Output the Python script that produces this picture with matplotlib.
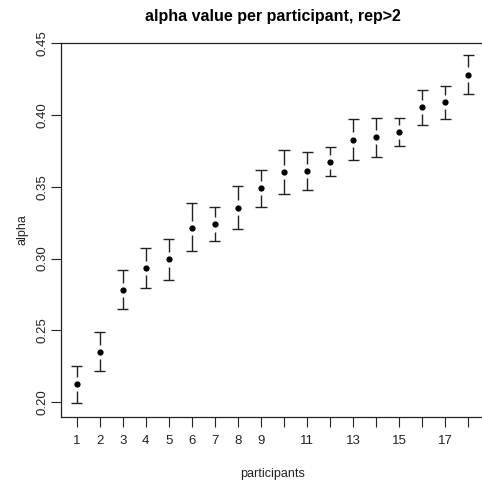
import matplotlib
matplotlib.use('Agg')
import matplotlib.pyplot as plt
import numpy as np

plt.rcParams['font.family'] = ['Liberation Sans', 'DejaVu Sans']

participants = np.arange(1, 19)
alpha = [0.2125, 0.2350, 0.2782, 0.2933, 0.2994, 0.3212, 0.3238, 0.3355,
         0.3492, 0.3602, 0.3611, 0.3671, 0.3829, 0.3845, 0.3882, 0.4057,
         0.4091, 0.4282]
upper = [0.2253, 0.2490, 0.2917, 0.3074, 0.3135, 0.3388, 0.3360, 0.3506,
         0.3618, 0.3755, 0.3745, 0.3776, 0.3971, 0.3980, 0.3980, 0.4175,
         0.4205, 0.4416]
lower = [0.1993, 0.2218, 0.2648, 0.2796, 0.2852, 0.3052, 0.3119, 0.3205,
         0.3356, 0.3450, 0.3476, 0.3576, 0.3687, 0.3708, 0.3783, 0.3934,
         0.3971, 0.4147]
x_ticks = list(range(1, 19))
x_labels = ['1', '2', '3', '4', '5', '6', '7', '8', '9', '', '11', '',
            '13', '', '15', '', '17', '']
y_ticks = [0.20, 0.25, 0.30, 0.35, 0.40, 0.45]

fig = plt.figure(figsize=(4.82, 4.84), dpi=100)
ax = fig.add_axes([61 / 482, 1 - 417 / 484, 423 / 482, 374 / 484])

alpha = np.array(alpha)
upper = np.array(upper)
lower = np.array(lower)
gap = 0.005
cap = 0.24
ink = '#222222'

# bars with a gap around the point, plotCI style
ax.vlines(participants, alpha + gap, upper, color=ink, lw=1)
ax.vlines(participants, lower, alpha - gap, color=ink, lw=1)
ax.hlines(upper, participants - cap, participants + cap, color=ink, lw=1)
ax.hlines(lower, participants - cap, participants + cap, color=ink, lw=1)
ax.plot(participants, alpha, 'o', color='black', ms=4.5, mew=0)

ax.set_xlim(0.32, 18.68)
ax.set_ylim(0.1896, 0.4502)
ax.set_xticks(x_ticks)
ax.set_xticklabels(x_labels)
ax.set_yticks(y_ticks)
ax.set_yticklabels(['%.2f' % v for v in y_ticks], rotation=90, va='center')
ax.tick_params(length=7, width=0.8, color=ink, labelsize=9.5, labelcolor='#222222', pad=6)
ax.tick_params(axis='y', pad=2)

for s in ax.spines.values():
    s.set_linewidth(0.9)
    s.set_color(ink)
ax.spines['right'].set_visible(False)

ax.set_xlabel('participants', fontsize=9, labelpad=15, color='#222222')
ax.set_ylabel('alpha', fontsize=9, labelpad=6, color='#222222')
ax.set_title('alpha value per participant, rep>2', fontsize=11.5,
             fontweight='bold', pad=16)

fig.savefig('out.png', dpi=100)
